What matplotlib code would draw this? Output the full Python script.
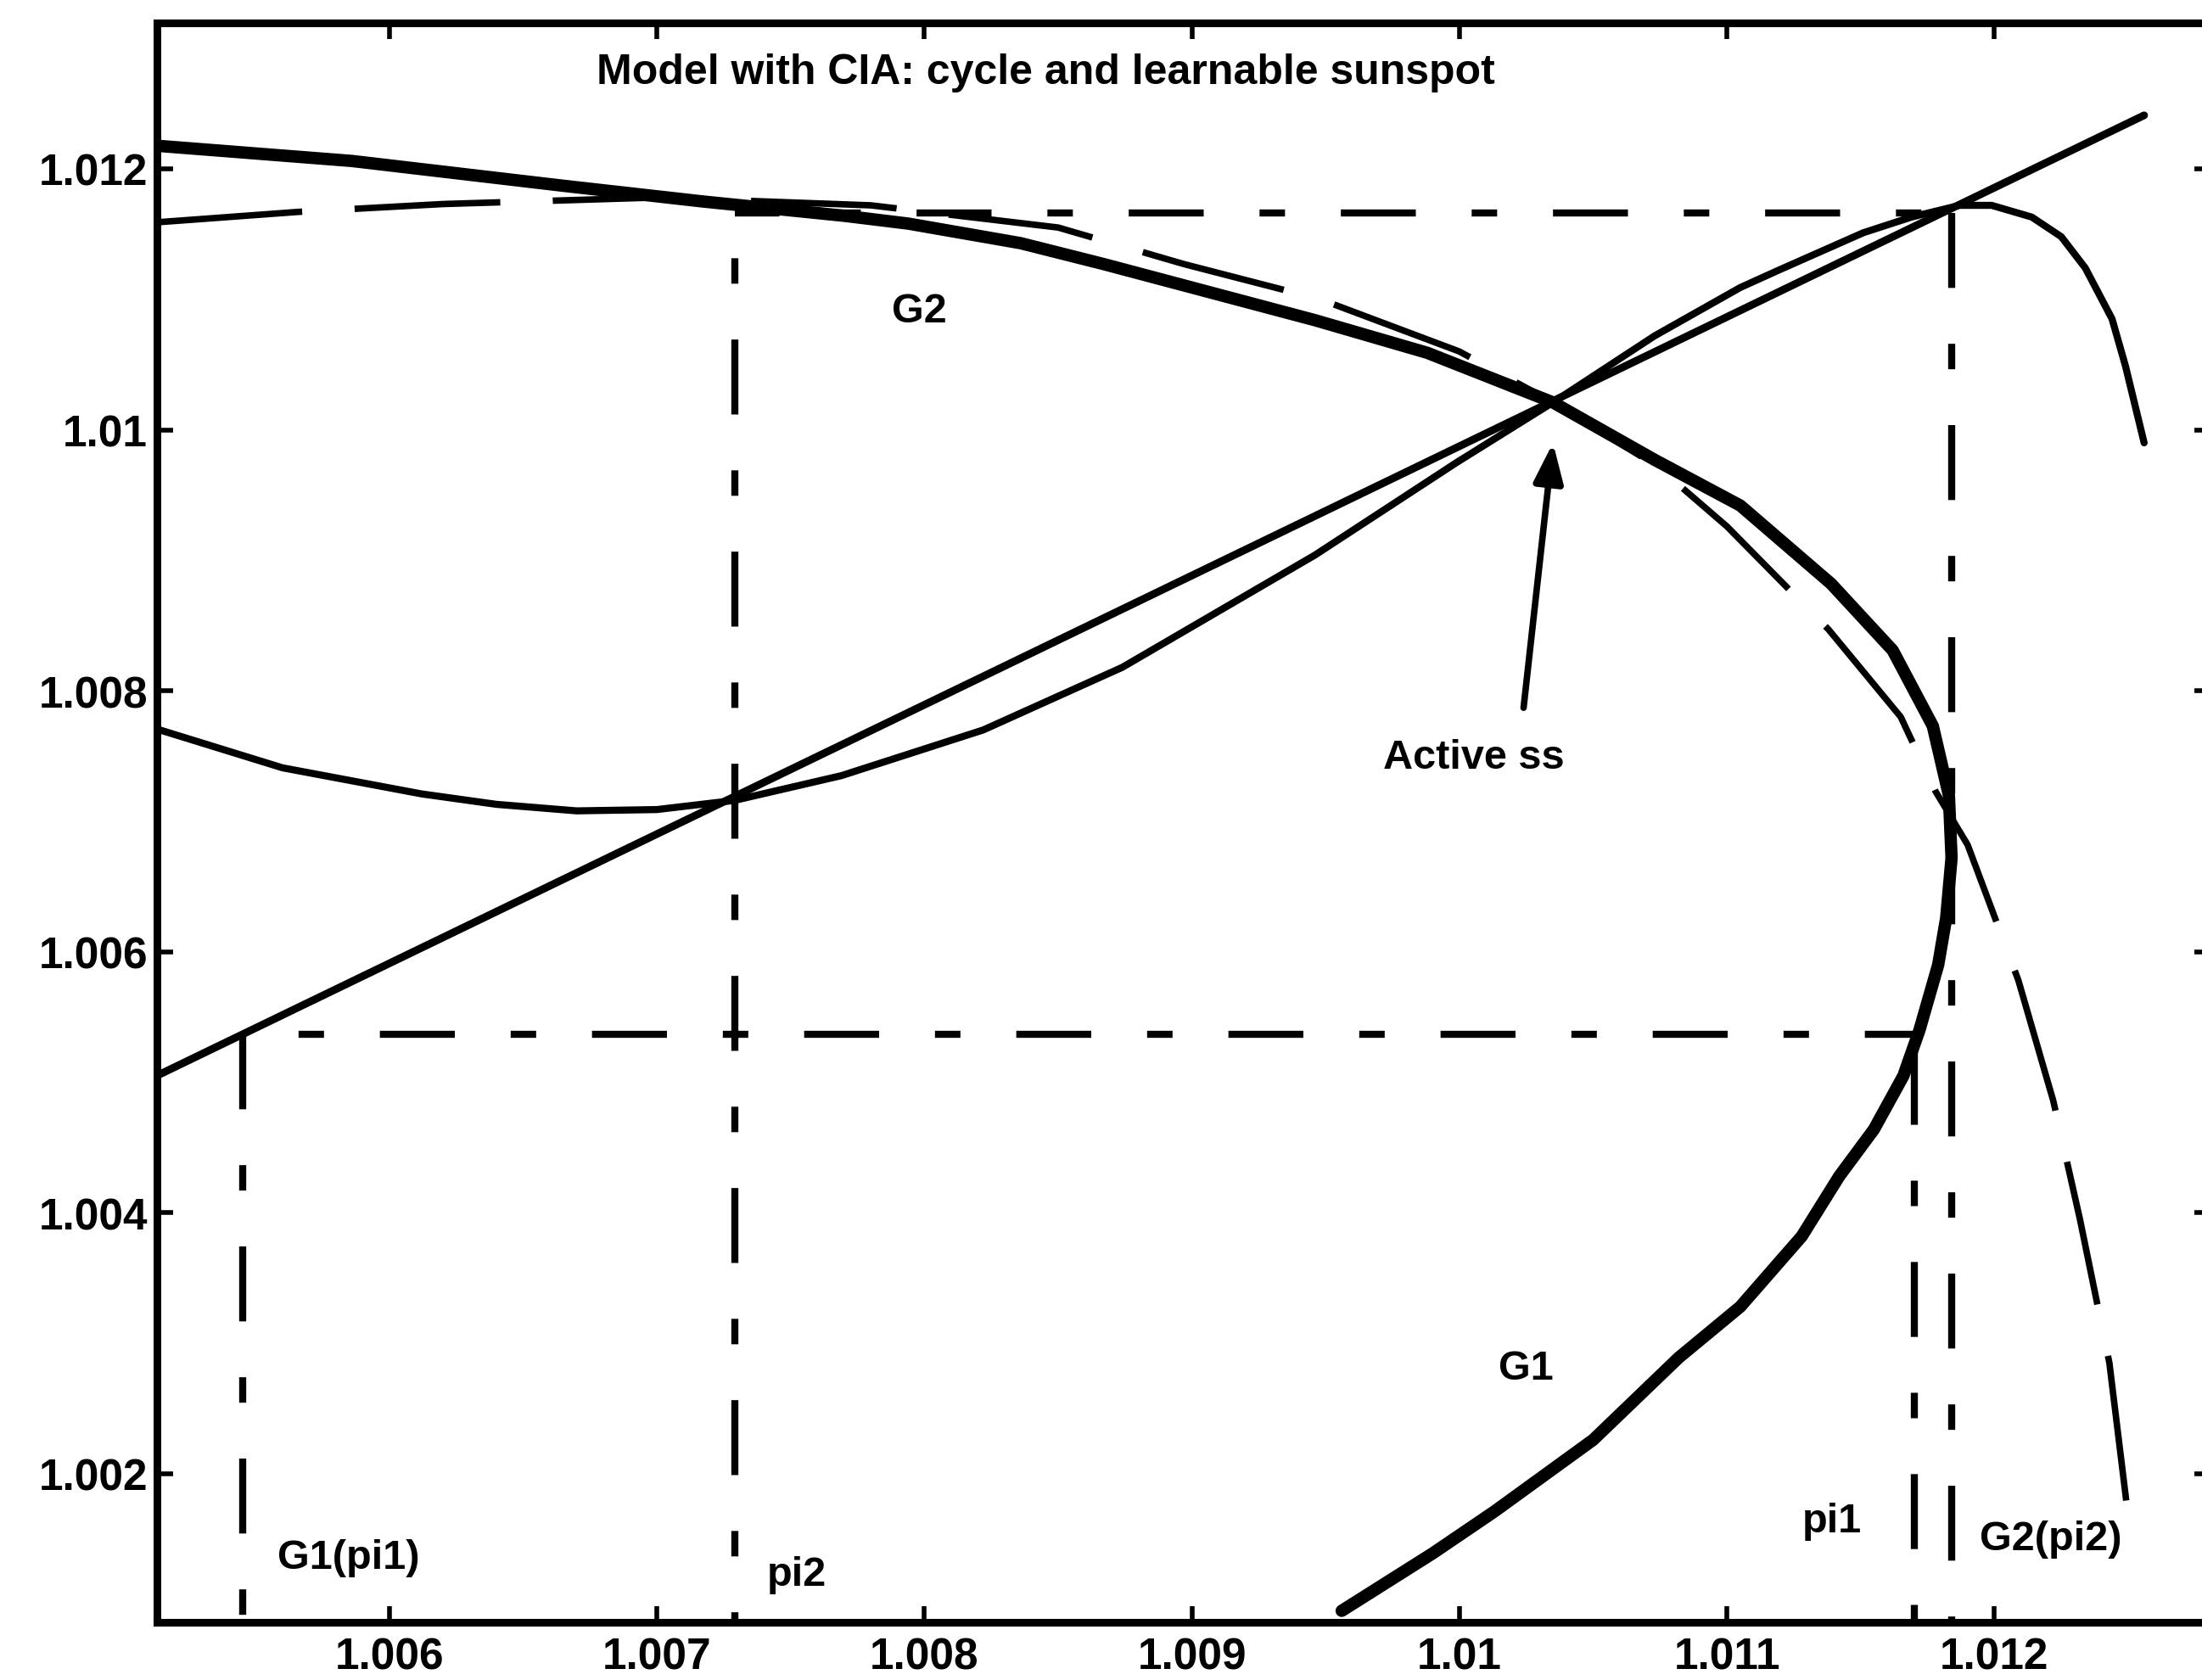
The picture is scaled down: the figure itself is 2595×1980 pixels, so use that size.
import matplotlib
matplotlib.use("Agg")
import matplotlib.pyplot as plt

plt.rcParams['font.family'] = ['Liberation Sans', 'DejaVu Sans']
plt.rcParams['font.weight'] = 'bold'

# ---------------- data ----------------
# thick curve (G2 upper branch through the active steady state, G1 lower branch)
thick_x = [1.00511, 1.00586, 1.00665, 1.00717, 1.00770, 1.00794, 1.00836, 1.00867,
           1.00946, 1.00988, 1.01035, 1.01073, 1.01105, 1.01139, 1.01162, 1.01177,
           1.01183, 1.01184, 1.01182, 1.01179, 1.01172, 1.01166, 1.01155, 1.01142,
           1.01128, 1.01105, 1.01082, 1.01050, 1.01013, 1.00990, 1.00956]
thick_y = [1.01218, 1.01206, 1.01187, 1.01175, 1.01164, 1.01158, 1.01143, 1.01127,
           1.01084, 1.01059, 1.01021, 1.00977, 1.00942, 1.00882, 1.00831, 1.00773,
           1.00720, 1.00672, 1.00626, 1.00590, 1.00540, 1.00505, 1.00464, 1.00428,
           1.00382, 1.00328, 1.00289, 1.00226, 1.00171, 1.00139, 1.00095]

# thin solid curve (second iterate)
comp_x = [1.00511, 1.00560, 1.00612, 1.00640, 1.00670, 1.00700, 1.00729, 1.00769,
          1.00822, 1.00874, 1.00946, 1.00999, 1.01035, 1.01073, 1.01105, 1.01119,
          1.01151, 1.01169, 1.01187, 1.01199, 1.01214, 1.01225, 1.01234, 1.01244,
          1.01249, 1.01256]
comp_y = [1.00772, 1.00741, 1.00721, 1.00713, 1.00708, 1.00709, 1.00716, 1.00735,
          1.00770, 1.00818, 1.00904, 1.00975, 1.01021, 1.01072, 1.01109, 1.01122,
          1.01151, 1.01163, 1.01172, 1.01172, 1.01163, 1.01148, 1.01124, 1.01085,
          1.01049, 1.00990]

# long-dashed curve
dash_x = [1.00513, 1.00566, 1.00620, 1.00700, 1.00780, 1.00850, 1.00897, 1.00948,
          1.01000, 1.01035, 1.01074, 1.01100, 1.01138, 1.01165, 1.01178, 1.01190,
          1.01209, 1.01222, 1.01232, 1.01243, 1.01251]
dash_y = [1.01159, 1.01167, 1.01173, 1.01178, 1.01172, 1.01155, 1.01127, 1.01100,
          1.01060, 1.01021, 1.00972, 1.00926, 1.00847, 1.00780, 1.00723, 1.00682,
          1.00578, 1.00486, 1.00395, 1.00285, 1.00151]

# diagonal line
diag_x = [1.00511, 1.01256]
diag_y = [1.00503, 1.01241]

# cycle construction lines
pi1 = 1.01170
pi2 = 1.00729
g1_pi1 = 1.00545
g2_pi2 = 1.01184
low_level = 1.00537
high_level = 1.01166

# annotation arrow (tail -> tip)
arrow_tail = (1.01024, 1.00787)
arrow_tip = (1.01035, 1.00990)

# tick values & labels
xticks = [1.006, 1.007, 1.008, 1.009, 1.010, 1.011, 1.012]
xticklabels = ['1.006', '1.007', '1.008', '1.009', '1.01', '1.011', '1.012']
yticks = [1.002, 1.004, 1.006, 1.008, 1.010, 1.012]
yticklabels = ['1.002', '1.004', '1.006', '1.008', '1.01', '1.012']

title = 'Model with CIA: cycle and learnable sunspot'

# ---------------- figure ----------------
W, H = 2595, 1981
fig = plt.figure(figsize=(W / 100, H / 100), dpi=100)
L, R, B, T = 185, 2605, 1913, 28
ax = fig.add_axes([L / W, (H - B) / H, (R - L) / W, (B - T) / H])
ax.set_xlim(1.005131, 1.012808)
ax.set_ylim(1.000862, 1.013118)

K = 'black'
pat = (10.6, 7.9, 3.6, 7.9)

# construction lines
ax.plot([g1_pi1, pi1], [low_level, low_level], color=K, lw=6,
        linestyle=(10.6, pat), dash_capstyle='butt')
ax.plot([pi2, g2_pi2], [high_level, high_level], color=K, lw=6,
        linestyle=(4.3, pat), dash_capstyle='butt')
ax.plot([pi2, pi2], [high_level, 1.000862], color=K, lw=6,
        linestyle=(12.1, pat), dash_capstyle='butt')
ax.plot([g2_pi2, g2_pi2], [high_level, 1.000862], color=K, lw=6,
        linestyle=(0, pat), dash_capstyle='butt')
ax.plot([pi1, pi1], [low_level, 1.000862], color=K, lw=6,
        linestyle=(27.8, pat), dash_capstyle='butt')
ax.plot([g1_pi1, g1_pi1], [low_level, 1.000862], color=K, lw=6,
        linestyle=(0, pat), dash_capstyle='butt')

# curves
ax.plot(dash_x, dash_y, color=K, lw=5.5, linestyle=(0, (22.5, 8.1)),
        dash_capstyle='butt')
ax.plot(diag_x, diag_y, color=K, lw=6.5, solid_capstyle='round')
ax.plot(comp_x, comp_y, color=K, lw=6, solid_capstyle='round',
        solid_joinstyle='round')
ax.plot(thick_x, thick_y, color=K, lw=10.5, solid_capstyle='round',
        solid_joinstyle='round')

# arrow
ax.annotate('', xy=arrow_tip, xytext=arrow_tail,
            arrowprops=dict(arrowstyle='-|>,head_length=0.8,head_width=0.3',
                            mutation_scale=35, lw=5.5, color=K,
                            shrinkA=0, shrinkB=0))

fs = 35
ax.text(1.006774, 1.01274, title, fontsize=36, ha='left', va='center', fontweight='bold')
ax.text(1.00798, 1.01091, 'G2', fontsize=fs, ha='center', va='center', fontweight='bold')
ax.text(1.01025, 1.00281, 'G1', fontsize=fs, ha='center', va='center', fontweight='bold')
ax.text(1.00558, 1.00136, 'G1(pi1)', fontsize=fs, ha='left', va='center', fontweight='bold')
ax.text(1.00741, 1.00123, 'pi2', fontsize=fs, ha='left', va='center', fontweight='bold')
ax.text(1.01128, 1.00164, 'pi1', fontsize=fs, ha='left', va='center', fontweight='bold')
ax.text(1.011945, 1.00150, 'G2(pi2)', fontsize=fs, ha='left', va='center', fontweight='bold')
ax.text(1.009715, 1.00749, 'Active ss', fontsize=fs, ha='left', va='center', fontweight='bold')

ax.set_xticks(xticks)
ax.set_xticklabels(xticklabels)
ax.set_yticks(yticks)
ax.set_yticklabels(yticklabels)
ax.tick_params(direction='in', length=14, width=4, top=True, right=True,
               labelsize=37, colors=K)
ax.tick_params(axis='x', pad=12)
ax.tick_params(axis='y', pad=8)
for lab in ax.get_xticklabels() + ax.get_yticklabels():
    lab.set_fontweight('bold')
for s in ax.spines.values():
    s.set_linewidth(6.5)

fig.savefig('out.png', dpi=100)
